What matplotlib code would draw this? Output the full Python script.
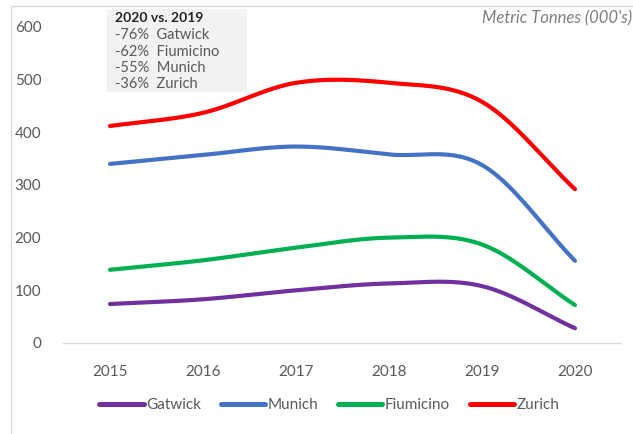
import matplotlib.pyplot as plt
from matplotlib.lines import Line2D
from matplotlib.patches import Rectangle
import numpy as np

years = ["2015", "2016", "2017", "2018", "2019", "2020"]
gatwick = [74, 83, 100, 113, 108, 28]
munich = [340, 357, 373, 358, 338, 156]
fiumicino = [139, 157, 181, 200, 187, 72]
zurich = [412, 437, 494, 494, 458, 292]

series = [
    ("Gatwick", gatwick, "#7030a0"),
    ("Munich", munich, "#4472c4"),
    ("Fiumicino", fiumicino, "#00b050"),
    ("Zurich", zurich, "#ff0000"),
]

notes_title = "2020 vs. 2019"
notes = ["-76%  Gatwick", "-62%  Fiumicino", "-55%  Munich", "-36%  Zurich"]


def smooth(y, n=40):
    # catmull-rom style curve, like excel's "smoothed line"
    y = np.asarray(y, dtype=float)
    x = np.arange(len(y), dtype=float)
    m = np.gradient(y, x)
    m[0] = y[1] - y[0]
    m[-1] = y[-1] - y[-2]
    xs, ys = [], []
    for i in range(len(y) - 1):
        t = np.linspace(0, 1, n)
        h00 = 2 * t**3 - 3 * t**2 + 1
        h10 = t**3 - 2 * t**2 + t
        h01 = -2 * t**3 + 3 * t**2
        h11 = t**3 - t**2
        xs.append(x[i] + t)
        ys.append(h00 * y[i] + h10 * m[i] + h01 * y[i + 1] + h11 * m[i + 1])
    return np.concatenate(xs), np.concatenate(ys)


plt.rcParams["font.family"] = ["Lato", "DejaVu Sans"]

fig = plt.figure(figsize=(6.33, 4.34), dpi=100)
ax = fig.add_axes([0.1003, 0.2097, 0.8815, 0.7281])

for name, vals, col in series:
    sx, sy = smooth(vals)
    ax.plot(sx, sy, color=col, lw=3.0, solid_capstyle="round", clip_on=False)

ax.set_xlim(-0.5, len(years) - 0.5)
ax.set_ylim(0, 600)
ax.set_xticks(range(len(years)))
ax.set_xticklabels(years)
ax.set_yticks(range(0, 601, 100))
for s in ["top", "right", "left"]:
    ax.spines[s].set_visible(False)
ax.spines["bottom"].set_color("#d9d9d9")
ax.spines["bottom"].set_linewidth(1.0)
ax.tick_params(axis="both", length=0, labelsize=11, labelcolor="#595959")
ax.tick_params(axis="x", pad=16)
ax.tick_params(axis="y", pad=16)

handles = [Line2D([], [], color=c, lw=3.6, solid_capstyle="round") for _, _, c in series]
fig.legend(
    handles,
    [n for n, _, _ in series],
    loc="center",
    bbox_to_anchor=(0.52, 0.067),
    ncol=4,
    frameon=False,
    fontsize=11,
    labelcolor="#595959",
    handlelength=2.9,
    handletextpad=0.15,
    columnspacing=1.3,
)

# notes box
fig.patches.append(Rectangle((107 / 633, 1 - 92 / 434), 140 / 633, 83 / 434,
                             transform=fig.transFigure, facecolor="#f2f2f2",
                             edgecolor="none", zorder=0))
fig.text(115 / 633, 1 - 18 / 434, notes_title, fontsize=10, fontweight="bold",
         color="#262626", va="center")
for i, line in enumerate(notes):
    fig.text(115 / 633, 1 - (35 + i * 16.5) / 434, line, fontsize=10.5,
             color="#595959", va="center")

fig.text(482 / 633, 1 - 18 / 434, "Metric Tonnes (000's)", fontsize=12,
         style="italic", color="#7f7f7f", va="center")

# chart border (cut off on the right and bottom)
fig.patches.append(Rectangle((11 / 633, -0.1), 1.0, 1.1 - 6 / 434,
                             transform=fig.transFigure, facecolor="none",
                             edgecolor="#d9d9d9", lw=1.0, zorder=0))

fig.savefig("out.png", dpi=100)
